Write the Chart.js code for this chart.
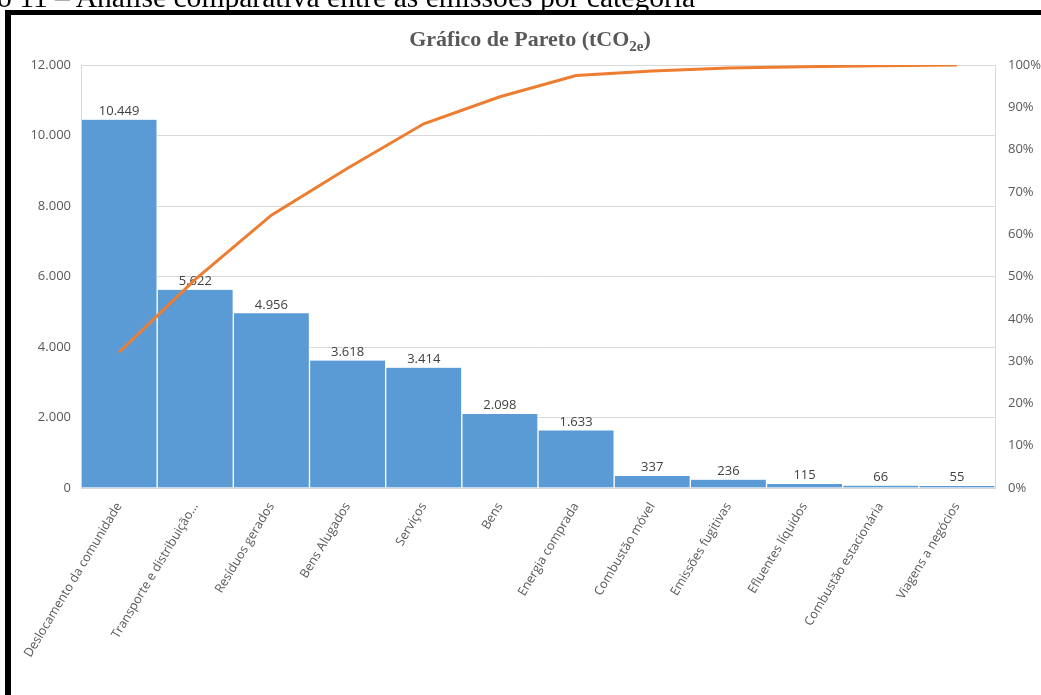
<!DOCTYPE html>
<html lang="pt-BR">
<head>
<meta charset="utf-8">
<title>Gráfico de Pareto</title>
<script src="https://cdn.jsdelivr.net/npm/chart.js@4"></script>
<style>
  html, body { margin: 0; padding: 0; background: #fff; overflow: hidden; }
  #wrap { position: relative; width: 1041px; height: 695px; }
  #chart { position: absolute; left: 0; top: 0; }
  .caption {
    position: absolute; left: -3px; top: -17px; white-space: nowrap;
    font: 29.6px "Liberation Serif", "Times New Roman", serif; line-height: 1; color: #000;
  }
  .frame {
    position: absolute; left: 5px; top: 10px; right: -10px; bottom: -10px;
    border-left: 6px solid #000; border-top: 5px solid #000; pointer-events: none;
  }
  .title {
    position: absolute; left: 530px; top: 28px; transform: translateX(-50%); white-space: nowrap;
    font: bold 22px "Liberation Serif", "Times New Roman", serif; line-height: 1; color: #595959;
  }
  .title sub { font-size: 15px; vertical-align: -5px; line-height: 0; }
</style>
</head>
<body>
<div id="wrap">
  <canvas id="chart" width="1041" height="695"></canvas>
  <div class="caption">o 11 – Análise comparativa entre as emissões por categoria</div>
  <div class="frame"></div>
  <div class="title">Gráfico de Pareto (tCO<sub>2e</sub>)</div>
</div>
<script>
// categorias de emissão, em ordem decrescente
const categories = [
  'Deslocamento da comunidade', 'Transporte e distribuição…', 'Resíduos gerados',
  'Bens Alugados', 'Serviços', 'Bens', 'Energia comprada', 'Combustão móvel',
  'Emissões fugitivas', 'Efluentes líquidos', 'Combustão estacionária', 'Viagens a negócios'
];
// emissões por categoria (tCO2e)
const emissions = [10449, 5622, 4956, 3618, 3414, 2098, 1633, 337, 236, 115, 66, 55];
// percentual acumulado
const cumulativePct = [32.1, 49.3, 64.5, 75.6, 86.1, 92.5, 97.5, 98.6, 99.3, 99.6, 99.8, 100];

const leftTicks = [0, 2000, 4000, 6000, 8000, 10000, 12000];
const rightTicks = [0, 10, 20, 30, 40, 50, 60, 70, 80, 90, 100];

const FONT = '"Open Sans", "Noto Sans", sans-serif';
const fmt = v => v.toLocaleString('pt-BR');

// rótulos de valor acima das barras
const barLabels = {
  id: 'barLabels',
  afterDatasetDraw(chart, args) {
    if (args.meta.type !== 'bar') return;
    const ctx = chart.ctx;
    ctx.save();
    ctx.font = '13px ' + FONT;
    ctx.fillStyle = '#404040';
    ctx.textAlign = 'center';
    ctx.textBaseline = 'bottom';
    args.meta.data.forEach((bar, i) => {
      ctx.fillText(fmt(emissions[i]), bar.x, bar.y - 2);
    });
    ctx.restore();
  }
};

new Chart(document.getElementById('chart'), {
  data: {
    labels: categories,
    datasets: [
      {
        type: 'line',
        data: cumulativePct,
        yAxisID: 'yPct',
        borderColor: '#ED7D31',
        borderWidth: 3,
        pointRadius: 0,
        tension: 0,
        order: 0
      },
      {
        type: 'bar',
        data: emissions,
        yAxisID: 'y',
        backgroundColor: '#5B9BD5',
        borderColor: 'rgba(255,255,255,0.75)',
        borderWidth: { left: 1, right: 1, top: 0, bottom: 0 },
        barPercentage: 1,
        categoryPercentage: 1,
        order: 1
      }
    ]
  },
  options: {
    responsive: false,
    animation: false,
    layout: { padding: { top: 65, left: 0, right: 0, bottom: 0 } },
    plugins: { legend: { display: false }, tooltip: { enabled: false }, title: { display: false } },
    scales: {
      x: {
        grid: { display: false },
        border: { color: '#d9d9d9' },
        ticks: {
          autoSkip: false, minRotation: 59, maxRotation: 59, padding: 4,
          color: '#595959', font: { family: FONT, size: 12.5 }
        },
        afterFit: s => { s.height = 207; }
      },
      y: {
        position: 'left',
        min: 0, max: 12000,
        afterBuildTicks: s => { s.ticks = leftTicks.map(v => ({ value: v })); },
        grid: { color: '#d9d9d9', drawTicks: false },
        border: { color: '#d9d9d9' },
        ticks: { padding: 10, color: '#595959', font: { family: FONT, size: 13 }, callback: v => fmt(v) },
        afterFit: s => { s.width = 81; }
      },
      yPct: {
        position: 'right',
        min: 0, max: 100,
        afterBuildTicks: s => { s.ticks = rightTicks.map(v => ({ value: v })); },
        grid: { display: false, drawTicks: false },
        border: { color: '#d9d9d9' },
        ticks: { padding: 13, color: '#595959', font: { family: FONT, size: 13 }, callback: v => v + '%' },
        afterFit: s => { s.width = 46; }
      }
    }
  },
  plugins: [barLabels]
});
</script>
</body>
</html>
